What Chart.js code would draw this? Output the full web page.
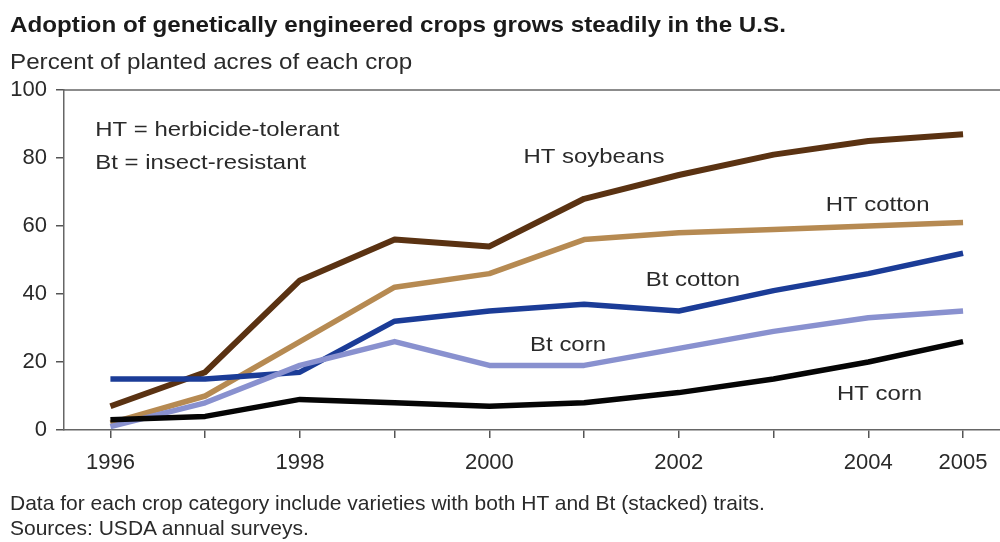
<!DOCTYPE html>
<html>
<head>
<meta charset="utf-8">
<script src="https://cdn.jsdelivr.net/npm/chart.js@4/dist/chart.umd.min.js"></script>
<style>
  body { margin: 0; background: #fff; font-family: "Liberation Sans", Arial, sans-serif; }
  #wrap { position: relative; width: 1000px; height: 542px; overflow: hidden; }
  #chart { position: absolute; left: 0; top: 0; }
  .txt { position: absolute; left: 10px; white-space: nowrap; color: #2a2a2a; transform-origin: left center; }
  #title { top: 12px; font-size: 22px; font-weight: bold; color: #1a1a1a; transform: scaleX(1.1); }
  #sub { top: 49px; font-size: 22px; transform: scaleX(1.1); }
  #note1 { top: 491px; font-size: 21px; }
  #note2 { top: 516px; font-size: 21px; }
</style>
</head>
<body>
<div id="wrap">
  <canvas id="chart" width="1000" height="542"></canvas>
  <div class="txt" id="title">Adoption of genetically engineered crops grows steadily in the U.S.</div>
  <div class="txt" id="sub">Percent of planted acres of each crop</div>
  <div class="txt" id="note1">Data for each crop category include varieties with both HT and Bt (stacked) traits.</div>
  <div class="txt" id="note2">Sources: USDA annual surveys.</div>
</div>
<script>
// data
const years = [1996, 1997, 1998, 1999, 2000, 2001, 2002, 2003, 2004, 2005];
const labeledYears = [1996, 1998, 2000, 2002, 2004, 2005];
const yTicks = [0, 20, 40, 60, 80, 100];

const htSoybeans = [7, 17, 44, 56, 54, 68, 75, 81, 85, 87];
const htCotton   = [2, 10, 26, 42, 46, 56, 58, 59, 60, 61];
const btCotton   = [15, 15, 17, 32, 35, 37, 35, 41, 46, 52];
const btCorn     = [1, 8, 19, 26, 19, 19, 24, 29, 33, 35];
const htCorn     = [3, 4, 9, 8, 7, 8, 11, 15, 20, 26];

// text inside the plot, placed in data units
const notes = [
  { text: "HT = herbicide-tolerant", x: 1995.84, y: 88.2 },
  { text: "Bt = insect-resistant", x: 1995.84, y: 78.5 },
  { text: "HT soybeans", x: 2000.36, y: 80.2 },
  { text: "HT cotton", x: 2003.55, y: 66.2 },
  { text: "Bt cotton", x: 2001.65, y: 44.1 },
  { text: "Bt corn", x: 2000.43, y: 25 },
  { text: "HT corn", x: 2003.67, y: 10.6 },
];

const toPoints = (vals) => years.map((yr, i) => ({ x: yr, y: vals[i] }));

const series = (label, vals, color, width) => ({
  label: label,
  data: toPoints(vals),
  borderColor: color,
  backgroundColor: color,
  borderWidth: width,
  pointRadius: 0,
  tension: 0,
  borderJoinStyle: "round",
  borderCapStyle: "butt",
});

const notesPlugin = {
  id: "notes",
  afterDraw(chart) {
    const { ctx, scales, chartArea } = chart;
    ctx.save();
    // top frame line
    ctx.strokeStyle = "#666";
    ctx.lineWidth = 1.5;
    ctx.beginPath();
    ctx.moveTo(chartArea.left, chartArea.top);
    ctx.lineTo(chartArea.right, chartArea.top);
    ctx.stroke();

    ctx.fillStyle = "#2a2a2a";
    ctx.font = '21px "Liberation Sans", Arial, sans-serif';
    ctx.textBaseline = "middle";
    ctx.textAlign = "left";
    notes.forEach((n) => {
      ctx.save();
      ctx.translate(scales.x.getPixelForValue(n.x), scales.y.getPixelForValue(n.y));
      ctx.scale(1.14, 1);
      ctx.fillText(n.text, 0, 0);
      ctx.restore();
    });
    ctx.restore();
  },
};

new Chart(document.getElementById("chart"), {
  type: "line",
  data: {
    datasets: [
      series("HT corn", htCorn, "#050505", 5.5),
      series("Bt corn", btCorn, "#8991cf", 5.5),
      series("Bt cotton", btCotton, "#1b3c97", 5.5),
      series("HT cotton", htCotton, "#b68a52", 5.5),
      series("HT soybeans", htSoybeans, "#5a3212", 6),
    ],
  },
  options: {
    responsive: false,
    animation: false,
    layout: { padding: { top: 90, right: 0, left: 0, bottom: 0 } },
    plugins: {
      legend: { display: false },
      tooltip: { enabled: false },
    },
    scales: {
      x: {
        type: "linear",
        min: 1995.51,
        max: 2005.39,
        afterBuildTicks: (scale) => {
          scale.ticks = years.map((v) => ({ value: v }));
        },
        afterFit: (scale) => {
          scale.height = 112;
        },
        grid: {
          drawOnChartArea: false,
          drawTicks: true,
          tickLength: 8,
          color: "#555",
          lineWidth: 1.5,
        },
        border: { display: true, color: "#666", width: 1.5 },
        ticks: {
          autoSkip: false,
          maxRotation: 0,
          padding: 12,
          color: "#2a2a2a",
          font: { family: '"Liberation Sans", Arial, sans-serif', size: 22 },
          callback: (v) => (labeledYears.includes(v) ? String(v) : ""),
        },
      },
      y: {
        min: 0,
        max: 100,
        afterBuildTicks: (scale) => {
          scale.ticks = yTicks.map((v) => ({ value: v }));
        },
        afterFit: (scale) => {
          scale.width = 64;
        },
        grid: {
          drawOnChartArea: false,
          drawTicks: true,
          tickLength: 8,
          color: "#555",
          lineWidth: 1.5,
        },
        border: { display: true, color: "#666", width: 1.5 },
        ticks: {
          padding: 9,
          color: "#2a2a2a",
          font: { family: '"Liberation Sans", Arial, sans-serif', size: 22 },
        },
      },
    },
  },
  plugins: [notesPlugin],
});
</script>
</body>
</html>
